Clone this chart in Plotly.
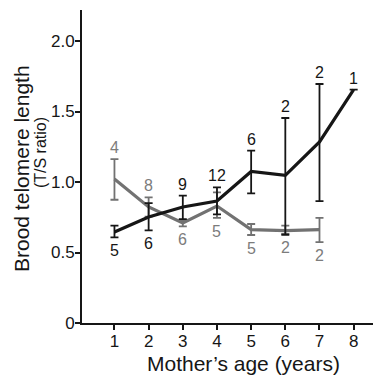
import plotly.graph_objects as go

ages = [1, 2, 3, 4, 5, 6, 7, 8]

# Black series
black_mean = [0.645, 0.752, 0.823, 0.865, 1.075, 1.047, 1.284, 1.655]
black_upper = [0.69, 0.85, 0.903, 0.962, 1.222, 1.454, 1.695, None]
black_lower = [0.607, 0.657, 0.737, 0.77, 0.919, 0.626, 0.865, None]
black_n = ["5", "6", "9", "12", "6", "2", "2", "1"]
black_side = ["below", "below", "above", "above", "above", "above", "above", "above"]

# Grey series
grey_ages = [1, 2, 3, 4, 5, 6, 7]
grey_mean = [1.021, 0.823, 0.709, 0.83, 0.662, 0.655, 0.662]
grey_upper = [1.163, 0.891, 0.73, 0.926, 0.702, 0.69, 0.745]
grey_lower = [0.874, 0.755, 0.685, 0.745, 0.624, 0.632, 0.574]
grey_n = ["4", "8", "6", "5", "5", "2", "2"]
grey_side = ["above", "above", "below", "below", "below", "below", "below"]

y_ticks = [0, 0.5, 1.0, 1.5, 2.0]
y_tick_text = ["0", "0.5", "1.0", "1.5", "2.0"]

BLACK = "#161616"
GREY = "#727272"
GREY_TXT = "#7c7c7c"
FONT = "Liberation Sans, Arial, Helvetica, sans-serif"


def err(mean, upper, lower):
    plus = [(u - m) if u is not None else 0 for m, u in zip(mean, upper)]
    minus = [(m - l) if l is not None else 0 for m, l in zip(mean, lower)]
    return plus, minus


fig = go.Figure()

gp, gm = err(grey_mean, grey_upper, grey_lower)
fig.add_trace(go.Scatter(
    x=grey_ages, y=grey_mean, mode="lines",
    line=dict(color=GREY, width=3.2),
    error_y=dict(type="data", symmetric=False, array=gp, arrayminus=gm,
                 color=GREY, thickness=1.8, width=4),
    hoverinfo="skip", showlegend=False,
))

bp, bm = err(black_mean, black_upper, black_lower)
fig.add_trace(go.Scatter(
    x=ages, y=black_mean, mode="lines",
    line=dict(color=BLACK, width=3.2),
    error_y=dict(type="data", symmetric=False, array=bp, arrayminus=bm,
                 color=BLACK, thickness=1.8, width=4),
    hoverinfo="skip", showlegend=False,
))


def add_labels(xs, mean, upper, lower, texts, sides, color):
    for x, m, u, l, t, s in zip(xs, mean, upper, lower, texts, sides):
        if s == "above":
            y = u if u is not None else m
            fig.add_annotation(x=x, y=y, text=t, showarrow=False,
                               yanchor="bottom", yshift=1,
                               font=dict(family=FONT, size=16, color=color))
        else:
            y = l if l is not None else m
            fig.add_annotation(x=x, y=y, text=t, showarrow=False,
                               yanchor="top", yshift=-3,
                               font=dict(family=FONT, size=16, color=color))


add_labels(ages, black_mean, black_upper, black_lower, black_n, black_side, BLACK)
add_labels(grey_ages, grey_mean, grey_upper, grey_lower, grey_n, grey_side, GREY_TXT)

# Axis titles (plot area: 82..381 px wide, 10..323 px tall in the window)
fig.add_annotation(xref="paper", yref="paper", x=-0.204, y=0.492,
                   text="Brood telomere length", textangle=-90, showarrow=False,
                   xanchor="center", yanchor="middle",
                   font=dict(family=FONT, size=21, color=BLACK))
fig.add_annotation(xref="paper", yref="paper", x=-0.1405, y=0.546,
                   text="(T/S ratio)", textangle=-90, showarrow=False,
                   xanchor="center", yanchor="middle",
                   font=dict(family=FONT, size=16, color=BLACK))
fig.add_annotation(xref="paper", yref="paper", x=0.54, y=-0.13,
                   text="Mother’s age (years)", showarrow=False,
                   xanchor="center", yanchor="middle",
                   font=dict(family=FONT, size=21, color=BLACK))

# The page body has an 8px margin; the figure is sized to fill the rest.
fig.update_layout(
    width=373, height=369,
    margin=dict(l=74, r=0, t=2, b=54),
    paper_bgcolor="white", plot_bgcolor="white",
    font=dict(family=FONT, color=BLACK),
    xaxis=dict(range=[0.05, 8.8], tickvals=ages, ticktext=[str(a) for a in ages],
               showgrid=False, zeroline=False, showline=True, linecolor=BLACK,
               linewidth=2, ticks="outside", ticklen=5, tickwidth=1.5,
               ticklabelstandoff=-3,
               tickcolor=BLACK, tickfont=dict(family=FONT, size=17, color=BLACK)),
    yaxis=dict(range=[0, 2.22], tickvals=y_ticks, ticktext=y_tick_text,
               showgrid=False, zeroline=False, showline=True, linecolor=BLACK,
               linewidth=2, ticks="outside", ticklen=5, tickwidth=1.5,
               ticklabelstandoff=-3,
               tickcolor=BLACK, tickfont=dict(family=FONT, size=17, color=BLACK)),
)

fig.write_html("out.html")
